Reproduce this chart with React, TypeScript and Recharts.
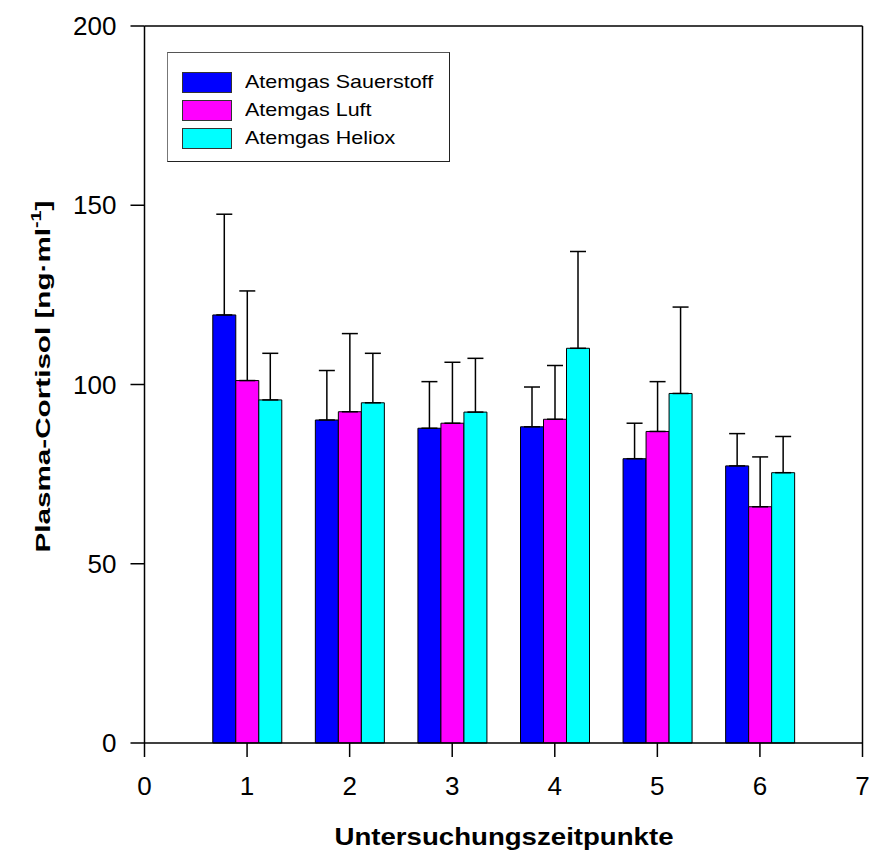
import { BarChart, Bar, XAxis, YAxis, ErrorBar, Legend, ReferenceLine } from 'recharts';

const FONT = '"Liberation Sans", Arial, Helvetica, sans-serif';

// Untersuchungszeitpunkte
const timePoints = [1, 2, 3, 4, 5, 6];

// Mittelwerte + SD (nur obere Fehlerbalken)
const sauerstoff = [119.4, 90.1, 87.8, 88.2, 79.3, 77.3];
const sauerstoffSd = [28.1, 13.8, 13.0, 11.1, 9.9, 9.0];
const luft = [101.1, 92.4, 89.2, 90.3, 86.9, 65.9];
const luftSd = [25.0, 21.8, 17.0, 15.0, 13.9, 13.9];
const heliox = [95.7, 94.9, 92.3, 110.1, 97.5, 75.4];
const helioxSd = [13.0, 13.8, 15.0, 27.0, 24.1, 10.1];

const seriesNames = ['Atemgas Sauerstoff', 'Atemgas Luft', 'Atemgas Heliox'];

const xTicks = [0, 1, 2, 3, 4, 5, 6, 7];
const yTicks = [0, 50, 100, 150, 200];

const data = timePoints.map((t, i) => ({
  t,
  o2: sauerstoff[i],
  o2Err: [0, sauerstoffSd[i]],
  luft: luft[i],
  luftErr: [0, luftSd[i]],
  heliox: heliox[i],
  helioxErr: [0, helioxSd[i]],
}));

const YTitle = (props: any) => {
  const vb = props.viewBox || {};
  const cy = (vb.y ?? 26) + (vb.height ?? 717) / 2 - 8;
  const x = 50;
  return (
    <text
      x={x}
      y={cy}
      transform={`rotate(-90 ${x} ${cy})`}
      textAnchor="middle"
      fontSize={21}
      fontWeight="bold"
      fontFamily={FONT}
      fill="#000"
      textLength={352}
      lengthAdjust="spacingAndGlyphs"
    >
      Plasma-Cortisol [ng·ml
      <tspan dy={-9} fontSize={14}>-1</tspan>
      <tspan dy={9}>]</tspan>
    </text>
  );
};

const XTitle = () => (
  <text
    x={504}
    y={845}
    textAnchor="middle"
    fontSize={24}
    fontWeight="bold"
    fontFamily={FONT}
    fill="#000"
    textLength={339}
    lengthAdjust="spacingAndGlyphs"
  >
    Untersuchungszeitpunkte
  </text>
);

const renderLegend = (props: any) => {
  const payload: any[] = props.payload || [];
  const items = seriesNames
    .map((name) => payload.find((p) => p.value === name))
    .filter(Boolean);
  return (
    <div
      style={{
        boxSizing: 'border-box',
        width: 283,
        height: 110,
        border: '1.5px solid #222',
        borderLeftColor: '#777',
        borderTopColor: '#555',
        paddingTop: 15,
        paddingLeft: 14,
        background: '#fff',
        fontFamily: FONT,
      }}
    >
      {items.map((entry: any, index: number) => (
        <div key={index} style={{ display: 'flex', alignItems: 'center', height: 28 }}>
          <div
            style={{
              width: 50,
              height: 21,
              boxSizing: 'border-box',
              background: entry.color,
              border: '1px solid #333',
            }}
          />
          <span
            style={{
              marginLeft: 13,
              fontSize: 19,
              color: '#000',
              display: 'inline-block',
              transform: 'scaleX(1.13)',
              transformOrigin: 'left center',
              whiteSpace: 'nowrap',
            }}
          >
            {entry.value}
          </span>
        </div>
      ))}
    </div>
  );
};

export default function App() {
  return (
    <div style={{ position: 'absolute', left: 0, top: 0, fontFamily: FONT }}>
      <BarChart
        width={872}
        height={850}
        data={data}
        margin={{ top: 26, right: 9.5, bottom: 0, left: 0 }}
        barGap={0}
        barSize={23}
      >
        <XAxis
          type="number"
          dataKey="t"
          domain={[0, 7]}
          ticks={xTicks}
          interval={0}
          height={107}
          tickSize={14}
          tickMargin={20}
          axisLine={{ stroke: '#000', strokeWidth: 1.5 }}
          tickLine={{ stroke: '#000', strokeWidth: 1.5 }}
          tick={{ fill: '#000', fontSize: 26, fontFamily: FONT }}
          label={<XTitle />}
        />
        <YAxis
          type="number"
          domain={[0, 200]}
          ticks={yTicks}
          interval={0}
          width={144.5}
          tickSize={14}
          tickMargin={14}
          axisLine={{ stroke: '#000', strokeWidth: 1.5 }}
          tickLine={{ stroke: '#000', strokeWidth: 1.5 }}
          tick={{ fill: '#000', fontSize: 26, fontFamily: FONT }}
          label={<YTitle />}
        />
        <ReferenceLine y={200} stroke="#000" strokeWidth={1.5} />
        <ReferenceLine x={7} stroke="#000" strokeWidth={1.5} />
        <Legend
          layout="vertical"
          align="center"
          verticalAlign="middle"
          wrapperStyle={{ left: 167, top: 52, width: 283, height: 110 }}
          content={renderLegend}
        />
        <Bar dataKey="o2" name={seriesNames[0]} fill="#0000ff" stroke="#000" strokeWidth={1} isAnimationActive={false}>
          <ErrorBar dataKey="o2Err" direction="y" width={8} stroke="#000" strokeWidth={1.5} />
        </Bar>
        <Bar dataKey="luft" name={seriesNames[1]} fill="#ff00ff" stroke="#000" strokeWidth={1} isAnimationActive={false}>
          <ErrorBar dataKey="luftErr" direction="y" width={8} stroke="#000" strokeWidth={1.5} />
        </Bar>
        <Bar dataKey="heliox" name={seriesNames[2]} fill="#00ffff" stroke="#000" strokeWidth={1} isAnimationActive={false}>
          <ErrorBar dataKey="helioxErr" direction="y" width={8} stroke="#000" strokeWidth={1.5} />
        </Bar>
      </BarChart>
    </div>
  );
}
